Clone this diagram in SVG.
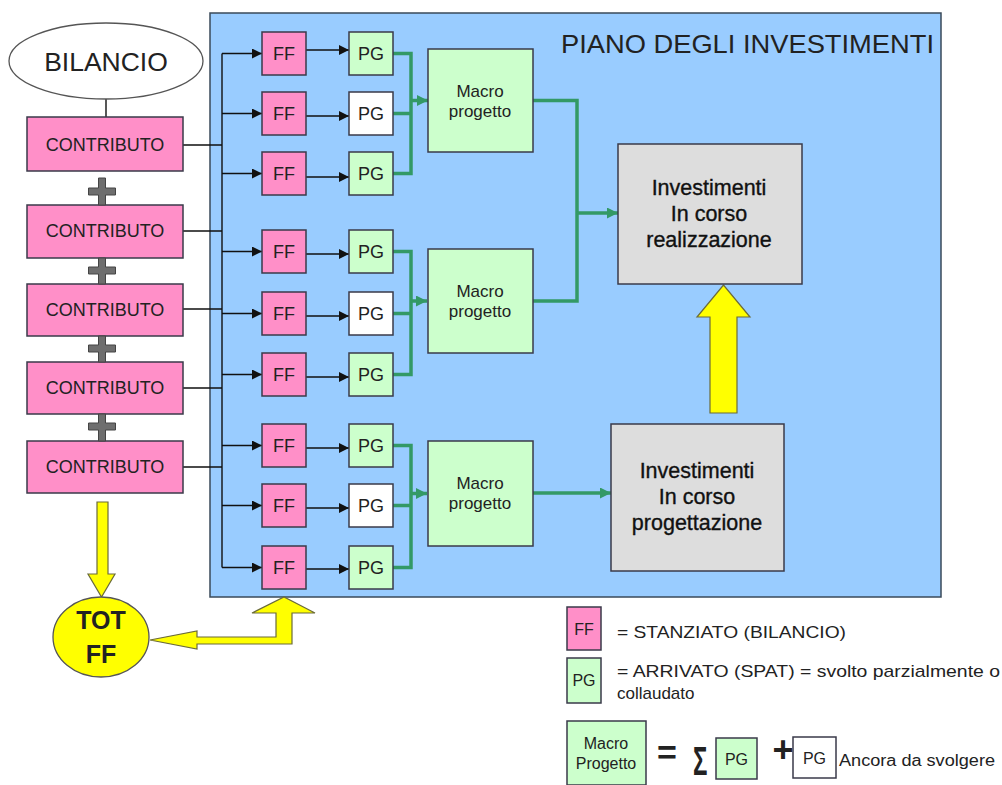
<svg xmlns="http://www.w3.org/2000/svg" width="1002" height="785" viewBox="0 0 1002 785">
<style>
text{font-family:"Liberation Sans",Arial,sans-serif;fill:#222}
.pink{fill:#ff8fc8;stroke:#3a3a4a;stroke-width:1.5}
.green{fill:#ccffcc;stroke:#3a3a4a;stroke-width:1.5}
.white{fill:#ffffff;stroke:#3a3a4a;stroke-width:1.5}
.gray{fill:#dddddd;stroke:#3a3a4a;stroke-width:1.5}
.yel{fill:#ffff00;stroke:#6b6b3a;stroke-width:1.2}
.blk{stroke:#111;stroke-width:1.4;fill:none}
.grn{stroke:#339966;stroke-width:3.5;fill:none}
.t18{font-size:18px;text-anchor:middle}
.t17{font-size:17px;text-anchor:middle}
.inv{font-size:21.5px;text-anchor:middle;fill:#111;stroke:#111;stroke-width:0.35}
.plus{fill:#6e6e6e;stroke:#444;stroke-width:1}
</style>
<defs>
<marker id="ab" viewBox="0 0 10 10" refX="10" refY="5" markerWidth="10" markerHeight="10" markerUnits="userSpaceOnUse" orient="auto"><path d="M0,0 L10,5 L0,10 z" fill="#111"/></marker>
<marker id="ag" viewBox="0 0 10 10" refX="10" refY="5" markerWidth="11" markerHeight="11" markerUnits="userSpaceOnUse" orient="auto"><path d="M0,0 L10,5 L0,10 z" fill="#339966"/></marker>
</defs>

<rect id="piano" x="210" y="13" width="731" height="584" fill="#99ccff" stroke="#3a4a5a" stroke-width="1.5"/>
<text x="934" y="53" font-size="26" text-anchor="end" textLength="373" lengthAdjust="spacingAndGlyphs">PIANO DEGLI INVESTIMENTI</text>

<g id="connectors">
  <line class="blk" x1="106" y1="99" x2="106" y2="117"/>
  <path class="blk" d="M183,145 H222 M183,231 H222 M183,309 H222 M183,388 H222 M183,467 H222 M222,53.5 V567.5"/>
  <g marker-end="url(#ab)" class="blk">
    <path d="M222,53.5 H262"/><path d="M222,113.5 H262"/><path d="M222,173.5 H262"/>
    <path d="M222,251.5 H262"/><path d="M222,313.5 H262"/><path d="M222,374.5 H262"/>
    <path d="M222,445.5 H262"/><path d="M222,505.5 H262"/><path d="M222,567.5 H262"/>
    <path d="M306,50 H349"/><path d="M306,116 H349"/><path d="M306,177 H349"/>
    <path d="M306,254 H349"/><path d="M306,316 H349"/><path d="M306,377 H349"/>
    <path d="M306,448 H349"/><path d="M306,508 H349"/><path d="M306,569 H349"/>
  </g>
  <path class="grn" d="M393,53.5 H411 V173.5 H393 M393,113.5 H411"/>
  <path class="grn" d="M393,251.5 H411 V374.5 H393 M393,313.5 H411"/>
  <path class="grn" d="M393,445.5 H411 V567.5 H393 M393,505.5 H411"/>
  <path class="grn" d="M411,100.5 H428" marker-end="url(#ag)"/>
  <path class="grn" d="M411,301 H427" marker-end="url(#ag)"/>
  <path class="grn" d="M411,493.5 H427" marker-end="url(#ag)"/>
  <path class="grn" d="M533,100.5 H577 V301 H533"/>
  <path class="grn" d="M577,213 H618" marker-end="url(#ag)"/>
  <path class="grn" d="M533,493 H611" marker-end="url(#ag)"/>
  <polygon class="yel" points="710,413 737,413 737,317 750,317 723.5,285 697,317 710,317"/>
  <polygon class="yel" points="97,502 108,502 108,574 115,574 101.5,597 88,574 97,574"/>
  <polygon class="yel" points="150,640 197,631 197,637 276,637 276,613 252,613 284,597 315,613 292,613 292,644 197,644 197,649"/>
</g>

<g id="bilancio">
  <ellipse cx="106" cy="61" rx="97" ry="38" fill="#fff" stroke="#555" stroke-width="1.3"/>
  <text x="106" y="71" font-size="26.5" text-anchor="middle">BILANCIO</text>
</g>

<g id="contributi">
  <g id="contributo1"><rect class="pink" x="27" y="117" width="156" height="54"/><text class="t18" x="105" y="151">CONTRIBUTO</text></g>
  <g id="contributo2"><rect class="pink" x="27" y="205" width="156" height="53"/><text class="t18" x="105" y="237">CONTRIBUTO</text></g>
  <g id="contributo3"><rect class="pink" x="27" y="284" width="156" height="52"/><text class="t18" x="105" y="316">CONTRIBUTO</text></g>
  <g id="contributo4"><rect class="pink" x="27" y="362" width="156" height="52"/><text class="t18" x="105" y="394">CONTRIBUTO</text></g>
  <g id="contributo5"><rect class="pink" x="27" y="441" width="156" height="52"/><text class="t18" x="105" y="473">CONTRIBUTO</text></g>
</g>

<g id="plus">
  <path class="plus" d="M98.5,178 h7 v10 h10 v7 h-10 v10 h-7 v-10 h-10 v-7 h10 z"/>
  <path class="plus" d="M98.5,258 h7 v9 h10 v7 h-10 v10 h-7 v-10 h-10 v-7 h10 z"/>
  <path class="plus" d="M98.5,336 h7 v9 h10 v7 h-10 v10 h-7 v-10 h-10 v-7 h10 z"/>
  <path class="plus" d="M98.5,414 h7 v9 h10 v7 h-10 v11 h-7 v-11 h-10 v-7 h10 z"/>
</g>

<g id="ff">
  <g id="ff1"><rect class="pink" x="262" y="32" width="44" height="43"/><text class="t18" x="284" y="60">FF</text></g>
  <g id="ff2"><rect class="pink" x="262" y="92" width="44" height="43"/><text class="t18" x="284" y="120">FF</text></g>
  <g id="ff3"><rect class="pink" x="262" y="152" width="44" height="43"/><text class="t18" x="284" y="180">FF</text></g>
  <g id="ff4"><rect class="pink" x="262" y="230" width="44" height="43"/><text class="t18" x="284" y="258">FF</text></g>
  <g id="ff5"><rect class="pink" x="262" y="292" width="44" height="43"/><text class="t18" x="284" y="320">FF</text></g>
  <g id="ff6"><rect class="pink" x="262" y="353" width="44" height="43"/><text class="t18" x="284" y="381">FF</text></g>
  <g id="ff7"><rect class="pink" x="262" y="424" width="44" height="43"/><text class="t18" x="284" y="452">FF</text></g>
  <g id="ff8"><rect class="pink" x="262" y="484" width="44" height="43"/><text class="t18" x="284" y="512">FF</text></g>
  <g id="ff9"><rect class="pink" x="262" y="546" width="44" height="43"/><text class="t18" x="284" y="574">FF</text></g>
</g>

<g id="pg">
  <g id="pg1"><rect class="green" x="349" y="32" width="44" height="43"/><text class="t18" x="371" y="60">PG</text></g>
  <g id="pg2"><rect class="white" x="349" y="92" width="44" height="43"/><text class="t18" x="371" y="120">PG</text></g>
  <g id="pg3"><rect class="green" x="349" y="152" width="44" height="43"/><text class="t18" x="371" y="180">PG</text></g>
  <g id="pg4"><rect class="green" x="349" y="230" width="44" height="43"/><text class="t18" x="371" y="258">PG</text></g>
  <g id="pg5"><rect class="white" x="349" y="292" width="44" height="43"/><text class="t18" x="371" y="320">PG</text></g>
  <g id="pg6"><rect class="green" x="349" y="353" width="44" height="43"/><text class="t18" x="371" y="381">PG</text></g>
  <g id="pg7"><rect class="green" x="349" y="424" width="44" height="43"/><text class="t18" x="371" y="452">PG</text></g>
  <g id="pg8"><rect class="white" x="349" y="484" width="44" height="43"/><text class="t18" x="371" y="512">PG</text></g>
  <g id="pg9"><rect class="green" x="349" y="546" width="44" height="43"/><text class="t18" x="371" y="574">PG</text></g>
</g>

<g id="macro1"><rect class="green" x="428" y="49" width="105" height="103"/><text class="t17" x="480" y="97">Macro</text><text class="t17" x="480" y="117">progetto</text></g>
<g id="macro2"><rect class="green" x="428" y="249" width="105" height="104"/><text class="t17" x="480" y="297">Macro</text><text class="t17" x="480" y="317">progetto</text></g>
<g id="macro3"><rect class="green" x="428" y="441" width="105" height="105"/><text class="t17" x="480" y="489">Macro</text><text class="t17" x="480" y="509">progetto</text></g>

<g id="realizzazione"><rect class="gray" x="618" y="144" width="184" height="140"/>
  <text class="inv" x="709" y="195">Investimenti</text><text class="inv" x="709" y="221">In corso</text><text class="inv" x="709" y="247">realizzazione</text></g>
<g id="progettazione"><rect class="gray" x="611" y="424" width="173" height="147"/>
  <text class="inv" x="697" y="478">Investimenti</text><text class="inv" x="697" y="504">In corso</text><text class="inv" x="697" y="530">progettazione</text></g>

<g id="totff"><ellipse cx="101" cy="637" rx="48" ry="40" fill="#ffff00" stroke="#555" stroke-width="1.3"/>
  <text x="101" y="629" font-size="25" font-weight="bold" text-anchor="middle" fill="#111">TOT</text>
  <text x="101" y="663" font-size="25" font-weight="bold" text-anchor="middle" fill="#111">FF</text></g>

<g id="legend">
  <rect class="pink" x="567" y="607" width="34" height="43"/><text x="584" y="635" font-size="16" text-anchor="middle">FF</text>
  <text x="617" y="638" font-size="17" textLength="229" lengthAdjust="spacingAndGlyphs">= STANZIATO (BILANCIO)</text>
  <rect class="green" x="567" y="658" width="34" height="45"/><text x="584" y="686" font-size="16" text-anchor="middle">PG</text>
  <text x="617" y="677" font-size="17" textLength="383" lengthAdjust="spacingAndGlyphs">=  ARRIVATO (SPAT) = svolto parzialmente o</text>
  <text x="617" y="699" font-size="17">collaudato</text>
  <rect class="green" x="567" y="721" width="79" height="64"/>
  <text x="606" y="749" font-size="16" text-anchor="middle">Macro</text><text x="606" y="769" font-size="16" text-anchor="middle">Progetto</text>
  <text x="667" y="764" font-size="34" font-weight="bold" text-anchor="middle">=</text>
  <text transform="translate(693,775) scale(0.6,1)" x="0" y="0" font-size="40" font-weight="bold">Σ</text>
  <rect class="green" x="716" y="738" width="41" height="41"/><text x="736.5" y="765" font-size="16" text-anchor="middle">PG</text>
  <text x="783" y="762" font-size="36" font-weight="bold" text-anchor="middle">+</text>
  <rect class="white" x="793" y="737" width="43" height="41"/><text x="814.5" y="764" font-size="16" text-anchor="middle">PG</text>
  <text x="839" y="766" font-size="16" textLength="156" lengthAdjust="spacingAndGlyphs">Ancora da svolgere</text>
</g>
</svg>
